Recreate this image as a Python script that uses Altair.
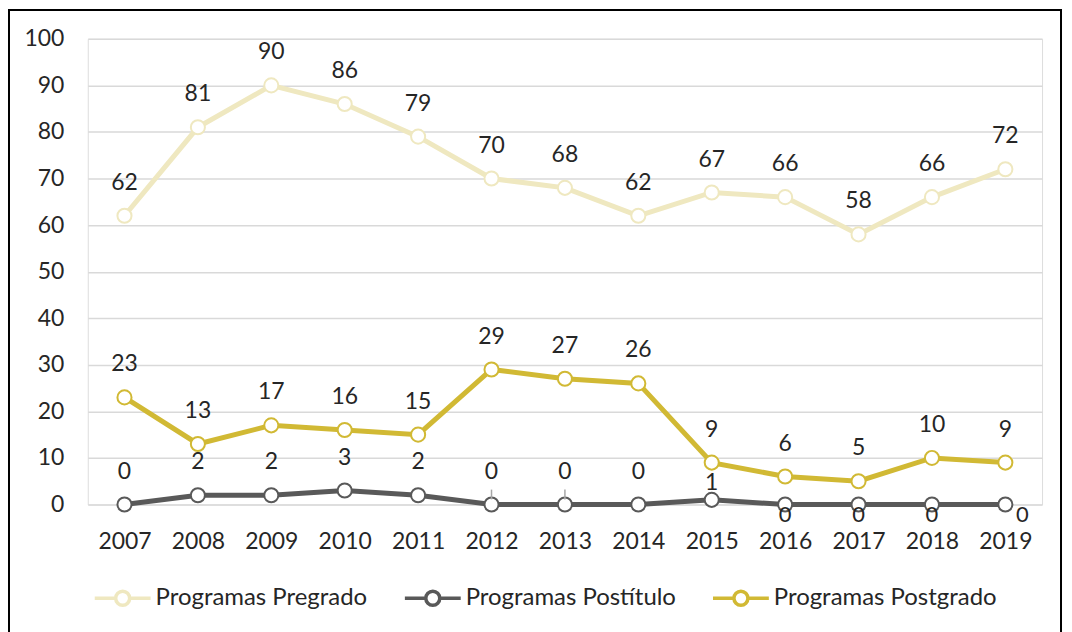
import altair as alt
import pandas as pd

years = [str(y) for y in range(2007, 2020)]
series_names = ["Programas Pregrado", "Programas Postítulo", "Programas Postgrado"]
pregrado = [62, 81, 90, 86, 79, 70, 68, 62, 67, 66, 58, 66, 72]
postitulo = [0, 2, 2, 3, 2, 0, 0, 0, 1, 0, 0, 0, 0]
postgrado = [23, 13, 17, 16, 15, 29, 27, 26, 9, 6, 5, 10, 9]
colors = ["#EFE8C0", "#595959", "#D1B934"]
# label placement per point
pos_pregrado = ["above"] * 13
pos_postitulo = ["above"] * 8 + ["near"] + ["below"] * 3 + ["right"]
pos_postgrado = ["above"] * 13
# Postítulo labels that have a leader line
leader_years = ["2012", "2013"]

rows = []
for name, vals, pos in zip(series_names, [pregrado, postitulo, postgrado],
                           [pos_pregrado, pos_postitulo, pos_postgrado]):
    for y, v, p in zip(years, vals, pos):
        rows.append({"Serie": name, "Año": y, "Valor": v, "pos": p})
df = pd.DataFrame(rows)

leader_df = pd.DataFrame({
    "Año": leader_years,
    "Valor": [postitulo[years.index(y)] for y in leader_years],
})

W, H = 957, 467
FONT = "Lato"
TXT = "#262626"
FS = 23

color_scale = alt.Scale(domain=series_names, range=colors)
x_axis = alt.Axis(title=None, labelAngle=0, labelFontSize=FS, labelColor=TXT,
                  labelFont=FONT, domain=False, ticks=False, grid=False,
                  labelPadding=26, labelAlign="center", labelBaseline="top")
x_scale = alt.Scale(type="point", padding=0.5, domain=years)
y_axis = alt.Axis(title=None, values=list(range(0, 101, 10)), labelFontSize=FS,
                  labelColor=TXT, labelFont=FONT, domain=False, ticks=False,
                  gridColor="#D9D9D9", gridWidth=1.5, labelPadding=24)
y_scale = alt.Scale(domain=[0, 100], nice=False, zero=True)

def X(field="Año:O"):
    return alt.X(field, scale=x_scale, axis=x_axis)

def Y(field="Valor:Q"):
    return alt.Y(field, scale=y_scale, axis=y_axis)

legend_path = ("M-1,0H-0.25M0.25,0H1"
               "M0.25,0A0.25,0.25,0,1,1,-0.25,0A0.25,0.25,0,1,1,0.25,0Z")

base = alt.Chart(df)

lines = base.mark_line(strokeWidth=5).encode(
    x=X(), y=Y(),
    color=alt.Color("Serie:N", scale=color_scale, sort=series_names,
                    legend=alt.Legend(title=None, orient="none", direction="horizontal",
                                      legendX=5, legendY=531,
                                      symbolType=legend_path, symbolSize=3136,
                                      symbolStrokeWidth=3.5, symbolFillColor="white",
                                      labelFontSize=24, labelFont=FONT, labelColor=TXT,
                                      labelOffset=3, columnPadding=30, labelLimit=400)),
    detail="Serie:N",
)

points = base.mark_point(filled=True, fill="white", size=200, strokeWidth=2, opacity=1).encode(
    x=X(), y=Y(),
    stroke=alt.Stroke("Serie:N", scale=color_scale, legend=None),
)

leaders = alt.Chart(leader_df).transform_calculate(
    y1="datum.Valor + 1.1", y2="datum.Valor + 3.2"
).mark_rule(color="#A6A6A6", strokeWidth=1.5).encode(
    x=X(), y=Y("y1:Q"), y2="y2:Q"
)

def labels(pos, dx, dy, fs=FS):
    return base.transform_filter(alt.datum.pos == pos).mark_text(
        fontSize=fs, font=FONT, color=TXT, dx=dx, dy=dy, baseline="middle", align="center"
    ).encode(x=X(), y=Y(), text="Valor:Q")

lab_above = labels("above", 0, -33)
lab_near = labels("near", 0, -17)
lab_below = labels("below", 0, 11, 22)
lab_right = labels("right", 17, 11, 22)

border = alt.Chart(alt.Data(values=[{}])).mark_rect(
    filled=False, stroke="black", strokeWidth=2
).encode(x=alt.value(-79), x2=alt.value(976), y=alt.value(-29), y2=alt.value(610))

chart = alt.layer(border, lines, points, leaders, lab_above, lab_near, lab_below, lab_right).properties(
    width=W, height=H,
    autosize=alt.AutoSizeParams(type="none"),
    padding={"left": 80, "top": 30, "right": 22, "bottom": 143},
).configure_view(stroke=None).configure(font=FONT)

chart.save("out.html", embed_options={"renderer": "svg", "actions": False})
